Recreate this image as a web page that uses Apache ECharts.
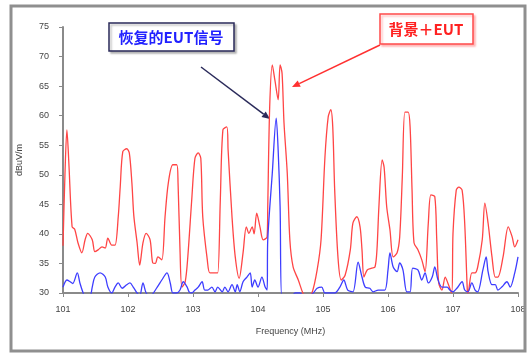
<!DOCTYPE html>
<html>
<head>
<meta charset="utf-8">
<script src="https://cdn.jsdelivr.net/npm/echarts@6/dist/echarts.min.js"></script>
<style>
  html, body { margin: 0; padding: 0; background: #fff; }
  #chart { width: 532px; height: 354px; }
</style>
</head>
<body>
<div id="chart"></div>
<script>
// background + EUT (red)
const redFreq = [
  101.00, 101.03, 101.06, 101.09, 101.14, 101.18, 101.23, 101.29, 101.34, 101.38,
  101.45, 101.49, 101.54, 101.60, 101.65, 101.69, 101.75, 101.80, 101.85, 101.88,
  101.92, 101.98, 102.02, 102.06, 102.09, 102.14, 102.18, 102.23, 102.28, 102.34,
  102.38, 102.42, 102.46, 102.52, 102.57, 102.62, 102.69, 102.75, 102.77, 102.80,
  102.83, 102.88, 102.92, 102.98, 103.03, 103.08, 103.12, 103.15, 103.22, 103.26,
  103.34, 103.38, 103.42, 103.46, 103.52, 103.54, 103.60, 103.65, 103.71, 103.77,
  103.82, 103.86, 103.91, 103.94, 103.98, 104.03, 104.08, 104.14, 104.15, 104.18,
  104.22, 104.26, 104.31, 104.34, 104.37, 104.40, 104.45, 104.49, 104.54, 104.62,
  104.69, 104.75, 104.83, 104.91, 104.97, 105.03, 105.08, 105.12, 105.15, 105.18,
  105.23, 105.28, 105.34, 105.42, 105.46, 105.52, 105.57, 105.60, 105.63, 105.68,
  105.75, 105.80, 105.83, 105.86, 105.91, 105.94, 105.98, 106.03, 106.08, 106.14,
  106.18, 106.22, 106.26, 106.31, 106.34, 106.37, 106.40, 106.46, 106.52, 106.57,
  106.62, 106.66, 106.72, 106.75, 106.78, 106.83, 106.88, 106.92, 106.98, 107.00,
  107.05, 107.09, 107.14, 107.18, 107.22, 107.23, 107.29, 107.34, 107.38, 107.45,
  107.49, 107.54, 107.60, 107.65, 107.69, 107.77, 107.85, 107.91, 107.95, 108.00
];
const redLevel = [
  38, 50, 57.6, 52, 41.2, 40.8, 38.5, 36.8, 39, 40.1,
  39, 37, 37.3, 37.8, 37.6, 39.3, 38.1, 38.1, 42.9, 47.9,
  53.9, 54.4, 53.7, 48.6, 43, 38.5, 34.7, 38.5, 40.1, 39,
  35.1, 35, 36.1, 35.6, 42.9, 48.6, 51.7, 51.7, 48.6, 37.3,
  31, 31.9, 36.1, 45.7, 52.8, 53.7, 52.8, 42.9, 35.6, 33.4,
  33.4, 33.4, 45.7, 57.6, 58.1, 54.2, 42.9, 36.1, 32.5, 36.8,
  41.2, 40.1, 41.2, 40, 43.5, 41.2, 39, 39.5, 44.6, 61.5,
  68.6, 66, 62.7, 68.6, 67.2, 58.8, 50.3, 39, 34.4, 32.2,
  30, 29, 30, 33.9, 39, 53, 59.8, 61, 58.1, 47.4,
  36.1, 32.2, 33, 37.3, 41.8, 42.9, 41.2, 37.3, 32.7, 33.9,
  34.2, 34.4, 37.3, 44.6, 52.5, 51.3, 44.6, 40.7, 36.1, 36.8,
  39.5, 49.6, 60.6, 60.6, 58.1, 47.4, 38.5, 37.3, 35.6, 33.6,
  41.8, 46.6, 46.3, 39, 31.7, 30.5, 32.7, 31.7, 30, 40.1,
  47.4, 47.9, 47.4, 41.8, 30.5, 30, 33.4, 33.4, 34.4, 39,
  45.2, 41.8, 36.1, 32.7, 32.7, 36.1, 41.2, 39.5, 37.8, 39
];

// recovered EUT signal (blue)
const blueFreq = [
  101.00, 101.06, 101.11, 101.15, 101.22, 101.26, 101.31, 101.35, 101.42, 101.45,
  101.49, 101.57, 101.65, 101.69, 101.75, 101.80, 101.85, 101.91, 101.98, 102.03,
  102.08, 102.14, 102.18, 102.23, 102.28, 102.34, 102.45, 102.52, 102.60, 102.65,
  102.69, 102.75, 102.80, 102.85, 102.91, 102.94, 102.98, 103.03, 103.08, 103.14,
  103.18, 103.23, 103.29, 103.34, 103.38, 103.45, 103.49, 103.54, 103.60, 103.65,
  103.68, 103.72, 103.77, 103.83, 103.88, 103.91, 103.95, 104.00, 104.06, 104.11,
  104.14, 104.15, 104.22, 104.28, 104.31, 104.34, 104.37, 104.49, 104.57, 104.65,
  104.72, 104.85, 104.91, 104.98, 105.03, 105.18, 105.26, 105.32, 105.38, 105.46,
  105.54, 105.60, 105.65, 105.72, 105.77, 105.85, 105.95, 106.00, 106.03, 106.08,
  106.14, 106.18, 106.23, 106.29, 106.34, 106.38, 106.46, 106.52, 106.57, 106.62,
  106.68, 106.72, 106.77, 106.83, 106.91, 106.95, 107.00, 107.06, 107.14, 107.18,
  107.23, 107.29, 107.34, 107.38, 107.46, 107.51, 107.54, 107.60, 107.65, 107.69,
  107.75, 107.83, 107.88, 107.95, 108.00
];
const blueLevel = [
  31, 32.2, 31.9, 31.6, 33.4, 31.7, 30, 29, 29.5, 31,
  32.7, 33.4, 32.7, 31, 30, 31, 31.7, 30.8, 31.4, 31.7,
  31, 30, 29.5, 31.7, 30, 29.5, 31, 32.2, 33.4, 31.7,
  30, 30, 30.5, 31.9, 31, 30.2, 30, 30.5, 31, 31.9,
  30.5, 30.5, 31, 30.2, 31, 30.2, 31, 30.2, 31.4, 30.2,
  31.4, 30.2, 31.9, 32.7, 33.4, 31, 32.2, 31, 32.7, 31,
  30.5, 39, 50.3, 59.6, 54.2, 44.6, 29, 29, 30, 30,
  29, 30, 30.8, 31, 30, 30, 31, 32.2, 30.5, 30.2,
  35.2, 32.7, 31, 30.8, 30.2, 30.5, 30.5, 33.9, 36.8, 34.4,
  33.6, 35.1, 33.9, 30.2, 30.2, 34.2, 33.9, 32.2, 33.4, 31.7,
  32.7, 34.4, 32.2, 31, 31, 30.5, 30.2, 30.8, 31.9, 30.5,
  30.2, 31.7, 30.5, 30.2, 33.9, 36.1, 33.6, 31.4, 31.4, 30.5,
  31, 31.9, 31, 33.4, 36.1
];

const fontFamily = 'Arial, "Liberation Sans", sans-serif';
const cjkFont = '"Noto Sans CJK SC", "Liberation Sans", sans-serif';
const color = {
  red: '#ff4545',
  blue: '#3d3dff',
  navy: '#2a2a5a',
  axis: '#8a8a8a',
  text: '#444',
};

// straight line with a filled arrow head at (x2, y2)
function arrow(x1, y1, x2, y2, stroke) {
  const a = Math.atan2(y2 - y1, x2 - x1);
  const len = 8, wid = 3.5;
  const bx = x2 - len * Math.cos(a), by = y2 - len * Math.sin(a);
  const nx = -Math.sin(a) * wid, ny = Math.cos(a) * wid;
  return {
    type: 'group',
    children: [
      { type: 'line', shape: { x1, y1, x2: bx, y2: by }, style: { stroke, lineWidth: 1.5 } },
      { type: 'polygon', shape: { points: [[x2, y2], [bx + nx, by + ny], [bx - nx, by - ny]] }, style: { fill: stroke } },
    ],
  };
}

const chart = echarts.init(document.getElementById('chart'), null, { renderer: 'canvas' });
chart.setOption({
  backgroundColor: '#fff',
  animation: false,
  grid: { left: 63, right: 14, top: 27, bottom: 61 },
  xAxis: {
    type: 'value',
    min: 101,
    max: 108,
    interval: 1,
    name: 'Frequency (MHz)',
    nameLocation: 'middle',
    nameGap: 34,
    nameTextStyle: { fontFamily, fontSize: 9, color: color.text },
    axisLine: { lineStyle: { color: color.axis, width: 2 } },
    axisTick: { length: 4, lineStyle: { color: color.axis } },
    axisLabel: { fontFamily, fontSize: 9, color: color.text, margin: 12 },
    splitLine: { show: false },
  },
  yAxis: {
    type: 'value',
    min: 30,
    max: 75,
    interval: 5,
    name: 'dBuV/m',
    nameLocation: 'middle',
    nameGap: 39,
    nameTextStyle: { fontFamily, fontSize: 9, color: color.text },
    axisLine: { show: true, lineStyle: { color: color.axis, width: 2 } },
    axisTick: { show: true, length: 4, lineStyle: { color: color.axis } },
    axisLabel: { fontFamily, fontSize: 9, color: color.text, margin: 14 },
    splitLine: { show: false },
  },
  series: [
    {
      name: '背景＋EUT',
      type: 'line',
      symbol: 'none',
      smooth: 0.3,
      data: redFreq.map((f, i) => [f, redLevel[i]]),
      lineStyle: { color: color.red, width: 1.3 },
      z: 2,
    },
    {
      name: '恢复的EUT信号',
      type: 'line',
      symbol: 'none',
      smooth: 0.3,
      data: blueFreq.map((f, i) => [f, blueLevel[i]]),
      lineStyle: { color: color.blue, width: 1.3 },
      z: 3,
    },
  ],
  graphic: [
    { type: 'rect', shape: { x: 11, y: 6, width: 514, height: 345 }, style: { fill: 'none', stroke: '#8f8f8f', lineWidth: 3 }, z: 10 },
    { type: 'rect', shape: { x: 109, y: 23, width: 125, height: 28 }, style: { fill: '#fff', stroke: color.navy, lineWidth: 1.5, shadowColor: 'rgba(0,0,0,0.25)', shadowOffsetX: 2, shadowOffsetY: 2, shadowBlur: 2 }, z: 10 },
    { type: 'text', x: 171, y: 37, style: { text: '恢复的EUT信号', fill: '#2020ff', font: 'bold 15px ' + cjkFont, align: 'center', verticalAlign: 'middle' }, z: 11 },
    { type: 'rect', shape: { x: 380, y: 14, width: 93, height: 30 }, style: { fill: '#fff', stroke: '#ff4a4a', lineWidth: 1.5, shadowColor: 'rgba(255,80,80,0.35)', shadowOffsetX: 2, shadowOffsetY: 2, shadowBlur: 2 }, z: 10 },
    { type: 'text', x: 426, y: 29, style: { text: '背景＋EUT', fill: '#ff2020', font: 'bold 15px ' + cjkFont, align: 'center', verticalAlign: 'middle' }, z: 11 },
    Object.assign(arrow(201, 67, 270, 119, color.navy), { z: 12 }),
    Object.assign(arrow(380, 45, 292, 87, '#ff3030'), { z: 12 }),
  ],
});
</script>
</body>
</html>
